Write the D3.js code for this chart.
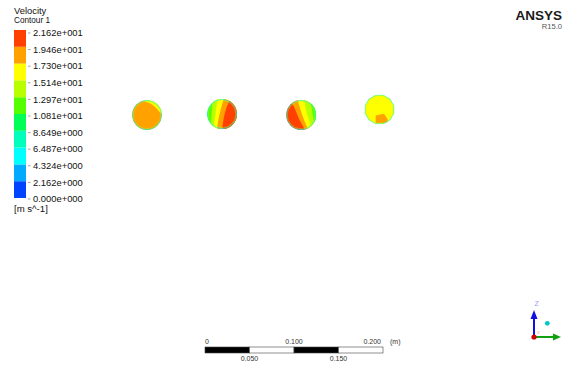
<!DOCTYPE html>
<html>
<head>
<meta charset="utf-8">
<script src="https://cdn.jsdelivr.net/npm/d3@7/dist/d3.min.js"></script>
<style>
  body { margin: 0; background: #fff; }
  svg { display: block; font-family: "Liberation Sans", Arial, sans-serif; }
</style>
</head>
<body>
<svg id="chart" width="565" height="365"></svg>
<script>
// legend levels (m s^-1), top to bottom
const legendLevels = [21.62, 19.46, 17.30, 15.14, 12.97, 10.81, 8.649, 6.487, 4.324, 2.162, 0];
const legendLabels = ['2.162e+001', '1.946e+001', '1.730e+001', '1.514e+001', '1.297e+001',
  '1.081e+001', '8.649e+000', '6.487e+000', '4.324e+000', '2.162e+000', '0.000e+000'];
// band colours, low to high
const bandColors = ['#0044ff', '#00aaff', '#00ffff', '#00ffbb', '#00ff55',
  '#55ff00', '#b8ff00', '#ffff00', '#ffa200', '#ff4000'];

// sections (model coordinates, m)
const sectionNames = ['Plane 1', 'Plane 2', 'Plane 3', 'Plane 4'];
const sectionX = [-0.1297, -0.0454, 0.0434, 0.1316];
const sectionZ = [0, 0.0011, 0, 0.0062];
const sectionSides = [0, 0, 0, 12];   // 0 = smooth circle
const pipeRadius = 0.0169;
const baseVelocity = [18.4, 11.9, 20.5, 16.2];
const wallVelocity = 5.4;
const nearWallVelocity = 14.0;

// contour regions per section, in unit-disk coords (u right, v down)
const plane1Regions = [
  { v: 16.2, type: 'right', pts: [[-0.2, -1.4], [-0.2, -0.96], [0.18, -0.78], [0.51, -0.56], [0.73, -0.33], [0.96, -0.11], [1.4, -0.05]] }
];
const plane2Regions = [
  { v: 14.0, type: 'right', pts: [[-0.58, -1.4], [-0.6, -0.96], [-0.67, -0.29], [-0.71, 0.38], [-0.78, 0.93], [-0.8, 1.4]] },
  { v: 16.2, type: 'right', pts: [[-0.25, -1.4], [-0.27, -1.0], [-0.38, -0.4], [-0.47, 0.27], [-0.56, 0.93], [-0.58, 1.4]] },
  { v: 18.4, type: 'right', pts: [[0.13, -1.4], [0.11, -1.0], [-0.04, -0.47], [-0.2, 0.16], [-0.33, 1.0], [-0.36, 1.4]] },
  { v: 20.5, type: 'right', pts: [[0.56, -1.4], [0.51, -0.96], [0.29, -0.4], [0.13, 0.2], [0.02, 1.0], [0.0, 1.4]] }
];
const plane3Regions = [
  { v: 18.4, type: 'right', pts: [[-0.8, -1.4], [-0.65, -0.89], [-0.43, -0.46], [-0.13, 0.26], [0.26, 1.0], [0.4, 1.4]] },
  { v: 16.2, type: 'right', pts: [[-0.28, -1.4], [-0.22, -1.04], [-0.07, -0.46], [0.15, 0.2], [0.48, 1.0], [0.6, 1.4]] },
  { v: 14.0, type: 'right', pts: [[0.18, -1.4], [0.22, -1.04], [0.3, -0.46], [0.48, 0.2], [0.7, 0.85], [0.85, 1.4]] },
  { v: 11.9, type: 'right', pts: [[0.55, -1.4], [0.59, -1.0], [0.7, -0.46], [0.8, 0.09], [0.91, 0.63], [1.1, 1.4]] }
];
const plane4Regions = [
  { v: 18.4, type: 'closed', pts: [[-0.26, 0.4], [0.3, 0.28], [0.52, 0.62], [0.6, 0.9], [-0.26, 0.92]] }
];
const sectionRegions = [plane1Regions, plane2Regions, plane3Regions, plane4Regions];

// scale bar
const barStops = [0, 0.05, 0.1, 0.15, 0.2];
const barTopLabels = [{ v: 0, t: '0', a: 'start' }, { v: 0.1, t: '0.100', a: 'middle' }, { v: 0.2, t: '0.200', a: 'end' }];
const barBottomLabels = [{ v: 0.05, t: '0.050' }, { v: 0.15, t: '0.150' }];

const svg = d3.select('#chart');

const color = d3.scaleQuantize().domain([0, 21.62]).range(bandColors);

// ---- legend ----
svg.append('text').attr('x', 14).attr('y', 14).attr('font-size', 9.4).attr('fill', '#111').text('Velocity');
svg.append('text').attr('x', 14).attr('y', 22.5).attr('font-size', 8.2).attr('fill', '#111').text('Contour 1');

const legendY = d3.scaleLinear().domain([21.62, 0]).range([30, 198]);
const labelY = d3.scaleLinear().domain([21.62, 0]).range([33, 199]);

const bands = d3.range(bandColors.length).map(i => ({ lo: legendLevels[10 - i], hi: legendLevels[9 - i] }));
svg.append('g').selectAll('rect')
  .data(bands)
  .enter()
  .append('rect')
  .attr('x', 14)
  .attr('width', 12)
  .attr('y', d => legendY(d.hi))
  .attr('height', d => legendY(d.lo) - legendY(d.hi))
  .attr('fill', d => color((d.lo + d.hi) / 2));

const lab = svg.append('g');
lab.selectAll('line')
  .data(legendLevels)
  .enter()
  .append('line')
  .attr('x1', 28).attr('x2', 30.5)
  .attr('y1', d => labelY(d)).attr('y2', d => labelY(d))
  .attr('stroke', '#888').attr('stroke-width', 0.8);
lab.selectAll('text')
  .data(legendLevels)
  .enter()
  .append('text')
  .attr('x', 33)
  .attr('y', d => labelY(d))
  .attr('dy', '0.35em')
  .attr('font-size', 9.4)
  .attr('fill', '#111')
  .text((d, i) => legendLabels[i]);

svg.append('text').attr('x', 14).attr('y', 212).attr('font-size', 9.6).attr('fill', '#111').text('[m s^-1]');

// ---- logo ----
svg.append('text').attr('x', 562).attr('y', 19.5).attr('text-anchor', 'end')
  .attr('font-size', 13.5).attr('font-weight', 'bold').attr('fill', '#1a1a1a').text('ANSYS');
svg.append('text').attr('x', 562).attr('y', 28.5).attr('text-anchor', 'end')
  .attr('font-size', 7.6).attr('fill', '#555').text('R15.0');

// ---- sections ----
const barX = d3.scaleLinear().domain([0, 0.2]).range([205, 383]);
const pxPerM = (barX(0.2) - barX(0)) / 0.2;
const xModel = d3.scaleLinear().domain([-0.3, 0.3]).range([262.4 - 0.3 * pxPerM, 262.4 + 0.3 * pxPerM]);
const zModel = d3.scaleLinear().domain([-0.1, 0.1]).range([115 + 0.1 * pxPerM, 115 - 0.1 * pxPerM]);

const defs = svg.append('defs');
const line = d3.line();
const smooth = d3.line().curve(d3.curveCatmullRom);

sectionNames.forEach((name, i) => {
  const cx = xModel(sectionX[i]);
  const cy = zModel(sectionZ[i]);
  const r = xModel(pipeRadius) - xModel(0);
  const u = d3.scaleLinear().domain([-1, 1]).range([cx - r, cx + r]);
  const v = d3.scaleLinear().domain([-1, 1]).range([cy - r, cy + r]);

  // outline shape (circle or coarse polygon)
  const shapePath = (rad) => {
    if (!sectionSides[i]) {
      return d3.arc()({ innerRadius: 0, outerRadius: rad, startAngle: 0, endAngle: 2 * Math.PI });
    }
    const n = sectionSides[i];
    const pts = d3.range(n).map(k => {
      const a = (k + 0.5) * 2 * Math.PI / n;
      return [rad * 1.02 * Math.sin(a), -rad * 1.02 * Math.cos(a)];
    });
    return line(pts) + 'Z';
  };

  const clipId = 'clip' + i;
  defs.append('clipPath').attr('id', clipId)
    .append('path').attr('d', shapePath(r)).attr('transform', `translate(${cx},${cy})`);

  const g = svg.append('g').attr('class', 'section').attr('clip-path', `url(#${clipId})`);

  g.append('path')
    .attr('d', shapePath(r))
    .attr('transform', `translate(${cx},${cy})`)
    .attr('fill', color(baseVelocity[i]));

  g.selectAll('.region')
    .data(sectionRegions[i])
    .enter()
    .append('path')
    .attr('class', 'region')
    .attr('d', d => {
      const pts = d.pts.map(p => [u(p[0]), v(p[1])]);
      if (d.type === 'right') {
        const last = d.pts[d.pts.length - 1], first = d.pts[0];
        return smooth(pts) + `L${u(2)},${v(last[1])}L${u(2)},${v(first[1])}Z`;
      }
      return line(pts) + 'Z';
    })
    .attr('fill', d => color(d.v));

  // wall boundary layer
  g.append('path')
    .attr('d', shapePath(r - 1.3))
    .attr('transform', `translate(${cx},${cy})`)
    .attr('fill', 'none')
    .attr('stroke', color(nearWallVelocity))
    .attr('stroke-opacity', 0.45)
    .attr('stroke-width', 0.8);
  g.append('path')
    .attr('d', shapePath(r - 0.4))
    .attr('transform', `translate(${cx},${cy})`)
    .attr('fill', 'none')
    .attr('stroke', color(wallVelocity))
    .attr('stroke-opacity', 0.75)
    .attr('stroke-width', 0.9);
});

// ---- scale bar ----
const bar = svg.append('g').attr('class', 'scale-bar');
bar.selectAll('rect')
  .data(d3.pairs(barStops))
  .enter()
  .append('rect')
  .attr('x', d => barX(d[0]))
  .attr('width', d => barX(d[1]) - barX(d[0]))
  .attr('y', 347)
  .attr('height', 6)
  .attr('fill', (d, i) => i % 2 === 0 ? '#000' : '#fff')
  .attr('stroke', '#444')
  .attr('stroke-width', 0.6);
bar.selectAll('.top')
  .data(barTopLabels)
  .enter()
  .append('text')
  .attr('class', 'top')
  .attr('x', d => barX(d.v) - (d.a === 'end' ? 2 : 0))
  .attr('y', 343.5)
  .attr('text-anchor', d => d.a)
  .attr('font-size', 7)
  .attr('fill', '#333')
  .text(d => d.t);
bar.selectAll('.bottom')
  .data(barBottomLabels)
  .enter()
  .append('text')
  .attr('class', 'bottom')
  .attr('x', d => barX(d.v))
  .attr('y', 361)
  .attr('text-anchor', 'middle')
  .attr('font-size', 7)
  .attr('fill', '#333')
  .text(d => d.t);
bar.append('text').attr('x', barX(0.2) + 7).attr('y', 343.5)
  .attr('font-size', 7).attr('fill', '#333').text('(m)');

// ---- axis triad ----
const triad = svg.append('g').attr('class', 'triad');
triad.append('line').attr('x1', 534).attr('y1', 337).attr('x2', 534).attr('y2', 317)
  .attr('stroke', '#1010e0').attr('stroke-width', 2);
triad.append('path').attr('d', 'M530.5,319L537.5,319L534,310Z').attr('fill', '#1010e0');
triad.append('line').attr('x1', 534).attr('y1', 337).attr('x2', 555).attr('y2', 337)
  .attr('stroke', '#10a010').attr('stroke-width', 2);
triad.append('path').attr('d', 'M553,333.5L553,340.5L561,337Z').attr('fill', '#10a010');
triad.append('circle').attr('cx', 534).attr('cy', 337).attr('r', 2.6).attr('fill', '#d00000');
triad.append('text').attr('x', 537).attr('y', 334).attr('font-size', 6).attr('fill', '#ffaaaa').text('x');
triad.append('circle').attr('cx', 547.3).attr('cy', 323.3).attr('r', 2.4).attr('fill', '#00c8c8');
triad.append('text').attr('x', 534.5).attr('y', 306).attr('font-size', 7).attr('fill', '#9a9aff').text('Z');
</script>
</body>
</html>
